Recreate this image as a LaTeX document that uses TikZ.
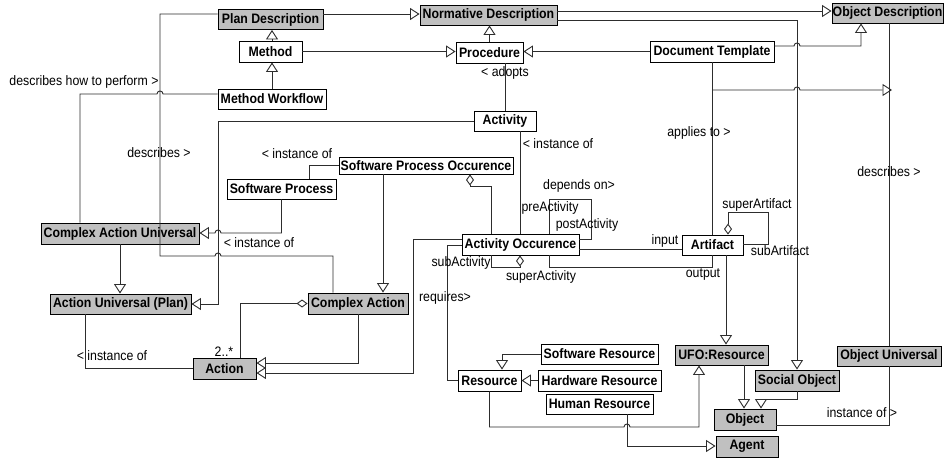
\documentclass[tikz,border=0pt]{standalone}
\usepackage{fontspec}
\setmainfont{Liberation Sans}[FakeStretch=0.9]
\usetikzlibrary{arrows.meta}
\definecolor{boxgrey}{RGB}{192,192,192}
\definecolor{linec}{RGB}{45,45,45}
\tikzset{
 box/.style={draw=black, line width=0.9pt, fill=white, inner sep=0pt, font=\fontsize{13.7}{14}\selectfont\bfseries, text=black},
 gbox/.style={box, fill=boxgrey},
 conn/.style={draw=linec, line width=0.9pt},
 gen/.style={conn, -{Triangle[open, length=9.5pt, width=12pt, line width=0.9pt]}},
 agg/.style={conn, {Diamond[open, length=11pt, width=8pt, line width=0.9pt]}-},
 lbl/.style={inner sep=0pt, font=\fontsize{13.7}{14}\selectfont, text=black},
}
\begin{document}
\begin{tikzpicture}[x=1pt,y=-1pt]
\fill[white] (0,0) rectangle (947,458);
\useasboundingbox (0,0) rectangle (947,458);
% nodes
\node[gbox, minimum width=105pt, minimum height=20pt] (pd) at (270.5,19.5) {Plan Description};
\node[gbox, minimum width=137pt, minimum height=20pt] (nd) at (488.5,15) {Normative Description};
\node[gbox, minimum width=111pt, minimum height=20pt] (od) at (887.5,13) {Object Description};
\node[box, minimum width=63pt, minimum height=21pt] (mth) at (270.5,51.5) {Method};
\node[box, minimum width=67pt, minimum height=21pt] (proc) at (489.5,52.5) {Procedure};
\node[box, minimum width=124pt, minimum height=21pt] (dt) at (712,51.5) {Document Template};
\node[box, minimum width=108pt, minimum height=20pt] (mw) at (272,99) {Method Workflow};
\node[box, minimum width=62pt, minimum height=20pt] (act) at (505,121) {Activity};
\node[box, minimum width=174pt, minimum height=17pt] (spo) at (426,165.5) {Software Process Occurence};
\node[box, minimum width=109pt, minimum height=20pt] (sp) at (281.5,189) {Software Process};
\node[gbox, minimum width=158pt, minimum height=21pt] (cau) at (120,233.5) {Complex Action Universal};
\node[gbox, minimum width=141pt, minimum height=20pt] (aup) at (120.5,304) {Action Universal (Plan)};
\node[gbox, minimum width=100pt, minimum height=21pt] (ca) at (358,303.5) {Complex Action};
\node[gbox, minimum width=63pt, minimum height=21pt] (action) at (224.5,368.5) {Action};
\node[box, minimum width=117pt, minimum height=21pt] (ao) at (520.5,244.5) {Activity Occurence};
\node[box, minimum width=61pt, minimum height=20pt] (art) at (712.5,245) {Artifact};
\node[box, minimum width=117pt, minimum height=20pt] (sr) at (599.5,354) {Software Resource};
\node[box, minimum width=63pt, minimum height=21pt] (res) at (489.5,380.5) {Resource};
\node[box, minimum width=123pt, minimum height=21pt] (hr) at (599.5,380.5) {Hardware Resource};
\node[box, minimum width=107pt, minimum height=20pt] (hur) at (599.5,404) {Human Resource};
\node[gbox, minimum width=93pt, minimum height=20pt] (ufo) at (721.5,355) {UFO:Resource};
\node[gbox, minimum width=104pt, minimum height=20pt] (ou) at (889,356) {Object Universal};
\node[gbox, minimum width=84pt, minimum height=21pt] (so) at (797,380.5) {Social Object};
\node[gbox, minimum width=62pt, minimum height=21pt] (obj) at (745,419.5) {Object};
\node[gbox, minimum width=62pt, minimum height=21pt] (ag) at (747,446.5) {Agent};
\coordinate (br) at (712,90);
\coordinate (brend) at (892,90);
% connectors
\draw[gen] (pd.east |- 0,14) -- (nd.west |- 0,14);
\draw[conn] (pd.west |- 0,14) -- (160,14) -- (160,256) -- (215,256) .. controls (215,252) and (221,252) .. (221,256) -- (333,256) -- (333,0 |- ca.north);
\draw[conn] (mw.west |- 0,94) -- (163,94) .. controls (163,90) and (157,90) .. (157,94) -- (80,94) -- (80,0 |- cau.north);
\draw[gen] (272,0 |- mth.north) -- (272,0 |- pd.south);
\draw[gen] (mw.north) -- (mth.south -| mw.north);
\draw[gen] (mth.east) -- (proc.west |- mth.east);
\draw[gen] (dt.west) -- (proc.east |- dt.west);
\draw[gen] (proc.north) -- (nd.south -| proc.north);
\draw[gen] (nd.east |- 0,11) -- (od.west |- 0,11);
\draw[gen] (nd.east |- 0,20) -- (797,20) -- (so.north);
\draw[gen] (dt.east |- 0,46) -- (794,46) .. controls (794,42) and (800,42) .. (800,46) -- (861,46) -- (861,0 |- od.south);
\draw[conn] (dt.south) -- (art.north -| dt.south);
\draw[gen] (br) -- (794,90) .. controls (794,86) and (800,86) .. (800,90) -- (brend);
\draw[conn] (od.south -| ou.north) -- (ou.north);
\draw[conn] (ou.south) -- (ou.south |- 0,425) -- (obj.east |- 0,425);
\draw[conn] (505,0 |- proc.south) -- (act.north);
\draw[gen] (act.west) -- (218,121) -- (218,304) -- (aup.east |- 0,304);
\draw[conn] (520,0 |- act.south) -- (520,0 |- ao.north);
\draw[conn] (spo.west) -- (309,0 |- spo.west) -- (309,0 |- sp.north);
\draw[gen] (sp.south) -- (sp.south |- 0,233) -- (221,233) .. controls (221,229) and (215,229) .. (215,233) -- (cau.east |- 0,233);
\draw[gen] (383,0 |- spo.south) -- (383,0 |- ca.north);
\draw[agg] (470,0 |- spo.south) -- (470,186) -- (491,186) -- (491,0 |- ao.north);
\draw[gen] (cau.south) -- (aup.north -| cau.south);
\draw[conn] (85,0 |- aup.south) -- (85,368) -- (action.west |- 0,368);
\draw[agg] (ca.west) -- (240,0 |- ca.west) -- (240,0 |- action.north);
\draw[gen] (ca.south) -- (ca.south |- 0,363) -- (action.east |- 0,363);
\draw[gen] (ao.west |- 0,239) -- (413,239) -- (413,373) -- (action.east |- 0,373);
\draw[conn] (ao.west |- 0,245) -- (447,245) -- (447,380) -- (res.west |- 0,380);
\draw[conn] (549,0 |- ao.north) -- (549,199) -- (591,199) -- (591,239) -- (ao.east |- 0,239);
\draw[agg] (520,0 |- ao.south) -- (520,267) -- (491,267) -- (491,0 |- ao.south);
\draw[conn] (ao.east |- 0,249) -- (art.west |- 0,249);
\draw[conn] (549,0 |- ao.south) -- (549,267) -- (712,267) -- (712,0 |- art.south);
\draw[agg] (728,0 |- art.north) -- (728,212) -- (768,212) -- (768,244) -- (art.east |- 0,244);
\draw[gen] (726,0 |- art.south) -- (726,0 |- ufo.north);
\draw[gen] (sr.west) -- (502,0 |- sr.west) -- (502,0 |- res.north);
\draw[gen] (hr.west) -- (res.east |- hr.west);
\draw[gen] (res.south) -- (res.south |- 0,427) -- (624,427) .. controls (624,423) and (630,423) .. (630,427) -- (699,427) -- (699,0 |- ufo.south);
\draw[gen] (627,0 |- hur.south) -- (627,446) -- (ag.west |- 0,446);
\draw[gen] (744,0 |- ufo.south) -- (744,0 |- obj.north);
\draw[gen] (so.south) -- (797,399) -- (761,399) -- (761,0 |- obj.north);
% labels
\node[lbl] (l1) at (84,82) {describes how to perform >};
\node[lbl] (l2) at (159,153) {describes >};
\node[lbl] (l3) at (297,154) {< instance of};
\node[lbl] (l4) at (505,73) {< adopts};
\node[lbl] (l5) at (558,144) {< instance of};
\node[lbl] (l6) at (699,133) {applies to >};
\node[lbl] (l7) at (889,172) {describes >};
\node[lbl] (l8) at (259,243) {< instance of};
\node[lbl] (l9) at (579,186) {depends on>};
\node[lbl] (l10) at (550,208) {preActivity};
\node[lbl] (l11) at (587,225) {postActivity};
\node[lbl] (l12) at (757,205) {superArtifact};
\node[lbl] (l13) at (780,251) {subArtifact};
\node[lbl] (l14) at (665,241) {input};
\node[lbl] (l15) at (703,274) {output};
\node[lbl] (l16) at (461,263) {subActivity};
\node[lbl] (l17) at (541,277) {superActivity};
\node[lbl] (l18) at (445,298) {requires>};
\node[lbl] (l19) at (224,352) {2..*};
\node[lbl] (l20) at (112,356) {< instance of};
\node[lbl] (l21) at (862,413) {instance of >};
\end{tikzpicture}
\end{document}
